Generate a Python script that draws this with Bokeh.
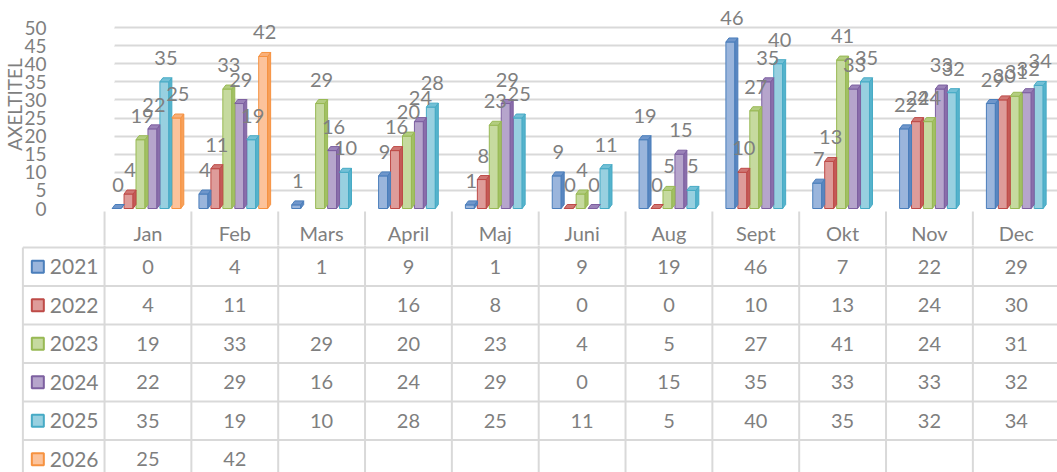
from bokeh.plotting import figure
from bokeh.layouts import column
from bokeh.models import Range1d, FixedTicker
from bokeh.core.properties import value
from bokeh.embed import file_html
from bokeh.resources import INLINE

# ---------------- data ----------------
months = ["Jan", "Feb", "Mars", "April", "Maj", "Juni", "Aug", "Sept", "Okt", "Nov", "Dec"]
years = ["2021", "2022", "2023", "2024", "2025", "2026"]
v2021 = [0, 4, 1, 9, 1, 9, 19, 46, 7, 22, 29]
v2022 = [4, 11, None, 16, 8, 0, 0, 10, 13, 24, 30]
v2023 = [19, 33, 29, 20, 23, 4, 5, 27, 41, 24, 31]
v2024 = [22, 29, 16, 24, 29, 0, 15, 35, 33, 33, 32]
v2025 = [35, 19, 10, 28, 25, 11, 5, 40, 35, 32, 34]
v2026 = [25, 42, None, None, None, None, None, None, None, None, None]
y_ticks = [0, 5, 10, 15, 20, 25, 30, 35, 40, 45, 50]
axis_title = "AXELTITEL"

series = [v2021, v2022, v2023, v2024, v2025, v2026]

# ---------------- styles ----------------
border_cols = ["#4a7ebb", "#be4b48", "#98b954", "#7d60a0", "#46aac5", "#f69240"]
front_cols = ["#9ab5dc", "#de9c9a", "#c6da9f", "#b6a5cc", "#98d0e0", "#fcc39b"]
side_cols = ["#5a86c0", "#c45a57", "#a2c064", "#8a6eab", "#55b3cc", "#f7a05a"]
top_cols = ["#6f96cb", "#cf7673", "#b3cd80", "#9b83b9", "#73c0d6", "#f9b07a"]
TXT = "#7f7f7f"
GRID = "#d9d9d9"
FONT = value("Lato")

W = 1057
HA = 245
HB = 472 - HA
CAT0 = 100         # px of the first category boundary
FRAME_L = 110      # px of frame left (back wall)
PX_CAT = 87.2      # px per category
FLOOR = 208        # px of value 0 inside chart figure
PX_UNIT = 3.62     # px per value unit
HEAD_TOP = 211     # px where the table header starts

x_start = (FRAME_L - CAT0) / PX_CAT
x_end = x_start + (W - FRAME_L) / PX_CAT
y_end = FLOOR / PX_UNIT

slot = 12.0 / PX_CAT
fw = 9.0 / PX_CAT
dx = 3.0 / PX_CAT
dy = 4.0 / PX_UNIT

# ---------------- chart figure ----------------
p = figure(width=W, height=HA, output_backend="svg", toolbar_location=None,
           x_range=Range1d(x_start, x_end), y_range=Range1d(0, y_end),
           x_axis_location=None, min_border_left=FRAME_L, min_border_right=0,
           min_border_top=0, min_border_bottom=HA - FLOOR)
p.outline_line_color = None
p.xgrid.grid_line_color = None
p.ygrid.grid_line_color = GRID
p.ygrid.grid_line_width = 2
p.yaxis.ticker = FixedTicker(ticks=y_ticks)
p.yaxis.axis_line_color = None
p.yaxis.major_tick_line_color = None
p.yaxis.minor_tick_line_color = None
p.yaxis.major_label_text_font = "Lato"
p.yaxis.major_label_text_font_size = "19px"
p.yaxis.major_label_text_color = TXT
p.yaxis.major_label_standoff = 62
p.yaxis.axis_label = axis_title
p.yaxis.axis_label_text_font = "Lato"
p.yaxis.axis_label_text_font_size = "19px"
p.yaxis.axis_label_text_font_style = "normal"
p.yaxis.axis_label_text_color = TXT
p.yaxis.axis_label_standoff = -5

# slanted 3D stubs of the gridlines (side wall)
p.segment(x0=[x_start] * len(y_ticks), y0=y_ticks, x1=[0] * len(y_ticks),
          y1=[t - 6.0 / PX_UNIT for t in y_ticks], line_color=GRID, line_width=2,
          level="underlay")

# number of slots per month = last series with data
nslots = []
for i in range(len(months)):
    n = 0
    for k, s in enumerate(series):
        if s[i] is not None:
            n = k + 1
    nslots.append(n)

fl, fr, ft, fc, lc = [], [], [], [], []
sxs, sys_, scol = [], [], []
txs, tys, tcol = [], [], []
lx, ly, lt = [], [], []
for i in range(len(months)):
    n = nslots[i]
    start = i + 0.5 - n * slot / 2.0
    for k, s in enumerate(series):
        v = s[i]
        if v is None:
            continue
        xl = start + k * slot
        xr = xl + fw
        fl.append(xl); fr.append(xr); ft.append(v)
        fc.append(front_cols[k]); lc.append(border_cols[k])
        sxs.append([xr, xr + dx, xr + dx, xr])
        sys_.append([0, dy, v + dy, v])
        scol.append(k)
        txs.append([xl, xl + dx, xr + dx, xr])
        tys.append([v, v + dy, v + dy, v])
        tcol.append(k)
        lx.append(xl + (fw + dx) / 2.0)
        ly.append(v)
        lt.append(str(v))

p.quad(left=fl, right=fr, bottom=0, top=ft, fill_color=fc, line_color=lc, line_width=1,
       level="overlay")
p.patches(xs=sxs, ys=sys_, fill_color=[side_cols[k] for k in scol],
          line_color=[border_cols[k] for k in scol], line_width=1, level="overlay")
p.patches(xs=txs, ys=tys, fill_color=[top_cols[k] for k in tcol],
          line_color=[border_cols[k] for k in tcol], line_width=1, level="overlay")
p.text(x=lx, y=ly, text=lt, text_align="center", text_baseline="middle",
       y_offset=-24, text_font=FONT, text_font_size="20px", text_color=TXT,
       level="overlay")

# header row of the data table (inside chart figure, below the floor)
def val_of(px):
    return (FLOOR - px) / PX_UNIT

hx = list(range(len(months) + 1))
p.segment(x0=hx, y0=[val_of(HEAD_TOP)] * len(hx), x1=hx, y1=[val_of(HA + 2)] * len(hx),
          line_color=GRID, line_width=2, level="overlay")
p.text(x=[i + 0.5 for i in range(len(months))], y=[val_of(232)] * len(months), text=months,
       text_align="center", text_baseline="middle", text_font=FONT,
       text_font_size="20px", text_color=TXT, level="overlay")

# ---------------- table body figure ----------------
ROW = 38.5
TOP_PAD = 2.0
y_top = -TOP_PAD / ROW
y_bot = (HB - TOP_PAD) / ROW
tq = figure(width=W, height=HB, output_backend="svg", toolbar_location=None,
            x_range=Range1d(x_start, x_end), y_range=Range1d(y_bot, y_top),
            x_axis_location=None, y_axis_location=None,
            min_border_left=FRAME_L, min_border_right=0, min_border_top=0, min_border_bottom=0)
tq.outline_line_color = None
tq.grid.grid_line_color = None

x_tab_left = (18 - CAT0) / PX_CAT
nrows = len(years)
# horizontal lines
tq.segment(x0=[x_tab_left] * (nrows + 1), y0=list(range(nrows + 1)),
           x1=[len(months) + 1] * (nrows + 1), y1=list(range(nrows + 1)),
           line_color=GRID, line_width=2, level="overlay")
# vertical lines
vx = [x_tab_left] + list(range(len(months) + 1))
vy0 = [0] + [y_top] * (len(months) + 1)
tq.segment(x0=vx, y0=vy0, x1=vx, y1=[nrows + 1] * len(vx), line_color=GRID,
           line_width=2, level="overlay")

# row legend keys and labels
key_x = (33 - CAT0) / PX_CAT
lab_x = (45 - CAT0) / PX_CAT
tq.rect(x=[key_x] * nrows, y=[r + 0.5 for r in range(nrows)], width=12, height=12,
        width_units="screen", height_units="screen",
        fill_color=front_cols, line_color=border_cols, line_width=2, level="overlay")
tq.text(x=[lab_x] * nrows, y=[r + 0.5 for r in range(nrows)], text=years,
        text_align="left", text_baseline="middle", text_font=FONT,
        text_font_size="21px", text_color=TXT, level="overlay")

# cell values
cx, cy, ct = [], [], []
for r, s in enumerate(series):
    for i, v in enumerate(s):
        if v is None:
            continue
        cx.append(i + 0.5); cy.append(r + 0.5); ct.append(str(v))
tq.text(x=cx, y=cy, text=ct, text_align="center", text_baseline="middle",
        text_font=FONT, text_font_size="20px", text_color=TXT, level="overlay")

layout = column(p, tq, spacing=0)
open("out.html", "w").write(file_html(layout, INLINE))
